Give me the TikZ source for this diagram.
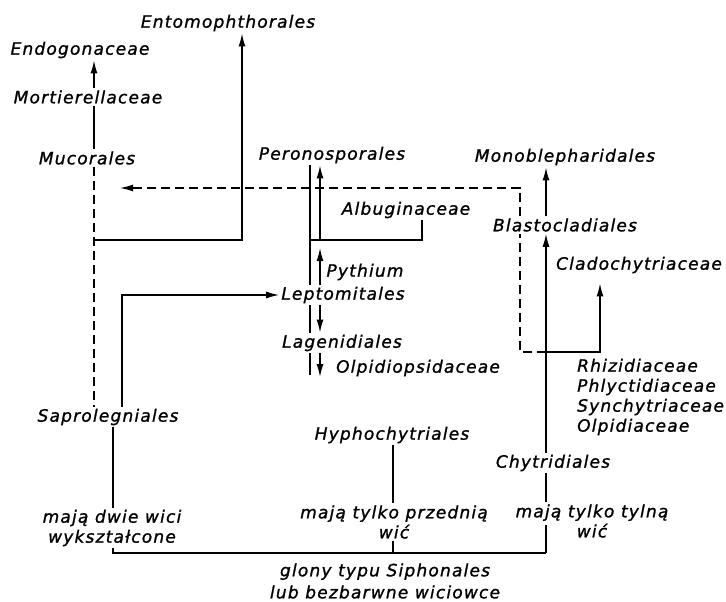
\documentclass[tikz,border=0pt]{standalone}
\usepackage{fontspec}
\newfontfamily\lettering{DejaVu Sans Oblique}[LetterSpace=7,FakeBold=1.2]
\usetikzlibrary{arrows.meta}

\begin{document}
\begin{tikzpicture}[x=1pt,y=-1pt,font=\lettering\fontsize{17}{20}\selectfont,
  every node/.style={inner sep=2pt},
  ln/.style={line width=1.4pt},
  arr/.style={ln,-{Latex[length=13pt,width=7pt]}},
  dsh/.style={ln,dash pattern=on 9pt off 5pt}]
  \useasboundingbox (0,0) rectangle (726,602);
  \node (ento) at (228,23) {Entomophthorales};
  \node (endo) at (80,50) {Endogonaceae};
  \node (mort) at (88,97) {Mortierellaceae};
  \node (muco) at (87,158) {Mucorales};
  \node (pero) at (332,155) {Peronosporales};
  \node (albu) at (406,210) {Albuginaceae};
  \node (pyth) at (365,272) {Pythium};
  \node (lept) at (343,295) {Leptomitales};
  \node (lage) at (342,343) {Lagenidiales};
  \node (olpo) at (418,368) {Olpidiopsidaceae};
  \node (mono) at (565,157) {Monoblepharidales};
  \node (blas) at (565,225) {Blastocladiales};
  \node (clad) at (639,265) {Cladochytriaceae};
  \node[anchor=west,align=left] (rhiz) at (575,397) {Rhizidiaceae\\Phlyctidiaceae\\Synchytriaceae\\Olpidiaceae};
  \node (sapr) at (108,417) {Saprolegniales};
  \node (hyph) at (392,435) {Hyphochytriales};
  \node (chyt) at (553,463) {Chytridiales};
  \node[align=center] (dwie) at (112,528) {mają dwie wici\\wykształcone};
  \node[align=center] (przed) at (394,522) {mają tylko przednią\\wić};
  \node[align=center] (tyln) at (592,521) {mają tylko tylną\\wić};
  \node[align=center] (glony) at (385,581) {glony typu Siphonales\\[2pt]lub bezbarwne wiciowce};
  \coordinate (xa) at (94,0);
  \coordinate (xe) at (242,0);
  \coordinate (xp) at (122,0);
  \coordinate (xs) at (113,0);
  \coordinate (xl) at (310,0);
  \coordinate (xr) at (320,0);
  \coordinate (xg) at (422,0);
  \coordinate (xh) at (393,0);
  \coordinate (xb) at (546,0);
  \coordinate (xc) at (600,0);
  \coordinate (xd) at (520,0);
  \coordinate (ja) at (94,240);
  \coordinate (ha) at (310,240);
  \coordinate (hr) at (320,240);
  \coordinate (pt) at (320,248);
  \coordinate (le) at (310,375);
  \coordinate (lr) at (320,377);
  \coordinate (jc) at (546,352);
  \coordinate (dt) at (120,188);
  \coordinate (tb) at (546,525);
  \coordinate (bc) at (546,553);
  \draw[arr] (mort.north -| xa) -- (endo.south -| xa);
  \draw[ln] (mort.south -| xa) -- (muco.north -| xa);
  \draw[dsh] (muco.south -| xa) -- (sapr.north -| xa);
  \draw[arr] (ja) -| (ento.south -| xe);
  \draw[arr] (sapr.north -| xp) |- (lept.west);
  \draw[ln] (pero.south -| xl) -- (lept.north -| xl);
  \draw[arr] (hr) -- (pero.south -| xr);
  \draw[ln] (ha) -| (albu.south -| xg);
  \draw[arr] (lept.north -| xr) -- (pt);
  \draw[ln] (lept.south -| xl) -- (lage.north -| xl);
  \draw[arr] (lept.south -| xr) -- (lage.north -| xr);
  \draw[ln] (lage.south -| xl) -- (le);
  \draw[arr] (lage.south -| xr) -- (lr);
  \draw[dsh] (jc) -| (blas.south -| xd);
  \draw[dsh,-{Latex[length=13pt,width=7pt]}] (blas.north -| xd) |- (dt);
  \draw[arr,shorten >=8pt] (jc) -| (clad.south -| xc);
  \draw[arr] (chyt.north -| xb) -- (blas.south -| xb);
  \draw[arr] (blas.north -| xb) -- (mono.south -| xb);
  \draw[ln] (chyt.south -| xb) -- (tyln.north -| xb);
  \draw[ln] (tb) -- (bc);
  \draw[ln] (sapr.south -| xs) -- (dwie.north -| xs);
  \draw[ln] (dwie.south -| xs) |- (bc);
  \draw[ln] (hyph.south -| xh) -- (przed.north -| xh);
  \draw[ln] (przed.south -| xh) -- (bc -| xh);
\end{tikzpicture}
\end{document}
